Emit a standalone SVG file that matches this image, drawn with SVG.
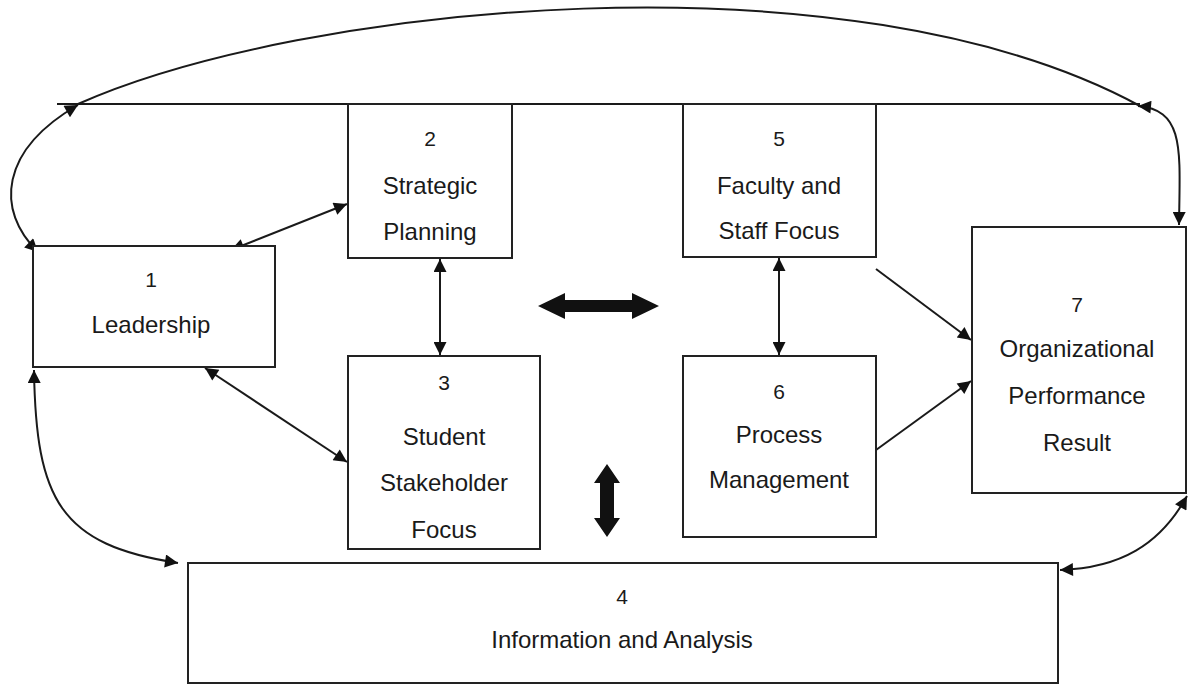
<svg xmlns="http://www.w3.org/2000/svg" width="1193" height="687" viewBox="0 0 1193 687">
<style>
.box{fill:#fff;stroke:#222;stroke-width:2}
.t{font-family:"Liberation Sans",Arial,sans-serif;font-size:24px;fill:#1a1a1a;text-anchor:middle}
.n{font-size:21px}
.c{fill:none;stroke:#1a1a1a;stroke-width:2}
.da{marker-start:url(#ah);marker-end:url(#ah)}
.sa{marker-end:url(#ah)}
.big{fill:#111;stroke:none}
</style>
<defs>
<marker id="ah" viewBox="0 0 10 10" refX="10" refY="5" markerUnits="userSpaceOnUse" markerWidth="17" markerHeight="13" orient="auto-start-reverse">
<path d="M0,0 L10,5 L0,10 z" fill="#111"/>
</marker>
</defs>
<rect width="1193" height="687" fill="#fff"/>
<g id="connectors">
<line class="c" x1="57" y1="104" x2="1140" y2="104"/>
<path class="c" d="M78,104 C300,5 850,-52 1140,106"/>
<path class="c da" d="M38,252 C-5,210 0,150 78,105"/>
<path class="c da" d="M1138,106 C1185,110 1180,150 1179,225"/>
<line class="c da" x1="231" y1="250" x2="347" y2="204"/>
<line class="c da" x1="440" y1="259" x2="440" y2="355"/>
<line class="c da" x1="779" y1="258" x2="779" y2="355"/>
<line class="c da" x1="205" y1="368" x2="347" y2="462"/>
<line class="c sa" x1="876" y1="269" x2="971" y2="340"/>
<line class="c sa" x1="876" y1="450" x2="971" y2="381"/>
<path class="c da" d="M34,370 C36,500 60,545 178,563"/>
<path class="c da" d="M1060,570 C1120,568 1160,545 1187,496"/>
<path class="big" d="M538,306 L565,293 L565,300 L632,300 L632,293 L659,306 L632,319 L632,312 L565,312 L565,319 z"/>
<path class="big" d="M607,464 L620,483 L614,483 L614,518 L620,518 L607,537 L594,518 L600,518 L600,483 L594,483 z"/>
</g>
<g id="node1">
<rect class="box" x="33" y="246" width="242" height="121"/>
<text class="t n" x="151" y="287">1</text>
<text class="t" x="151" y="333">Leadership</text>
</g>
<g id="node2">
<rect class="box" x="348" y="104" width="164" height="154"/>
<text class="t n" x="430" y="146">2</text>
<text class="t" x="430" y="194">Strategic</text>
<text class="t" x="430" y="240">Planning</text>
</g>
<g id="node3">
<rect class="box" x="348" y="356" width="192" height="193"/>
<text class="t n" x="444" y="390">3</text>
<text class="t" x="444" y="445">Student</text>
<text class="t" x="444" y="491">Stakeholder</text>
<text class="t" x="444" y="538">Focus</text>
</g>
<g id="node4">
<rect class="box" x="188" y="563" width="870" height="120"/>
<text class="t n" x="622" y="604">4</text>
<text class="t" x="622" y="648">Information and Analysis</text>
</g>
<g id="node5">
<rect class="box" x="683" y="104" width="193" height="153"/>
<text class="t n" x="779" y="146">5</text>
<text class="t" x="779" y="194">Faculty and</text>
<text class="t" x="779" y="239">Staff Focus</text>
</g>
<g id="node6">
<rect class="box" x="683" y="356" width="193" height="181"/>
<text class="t n" x="779" y="399">6</text>
<text class="t" x="779" y="443">Process</text>
<text class="t" x="779" y="488">Management</text>
</g>
<g id="node7">
<rect class="box" x="972" y="227" width="214" height="266"/>
<text class="t n" x="1077" y="312">7</text>
<text class="t" x="1077" y="357">Organizational</text>
<text class="t" x="1077" y="404">Performance</text>
<text class="t" x="1077" y="451">Result</text>
</g>
</svg>
